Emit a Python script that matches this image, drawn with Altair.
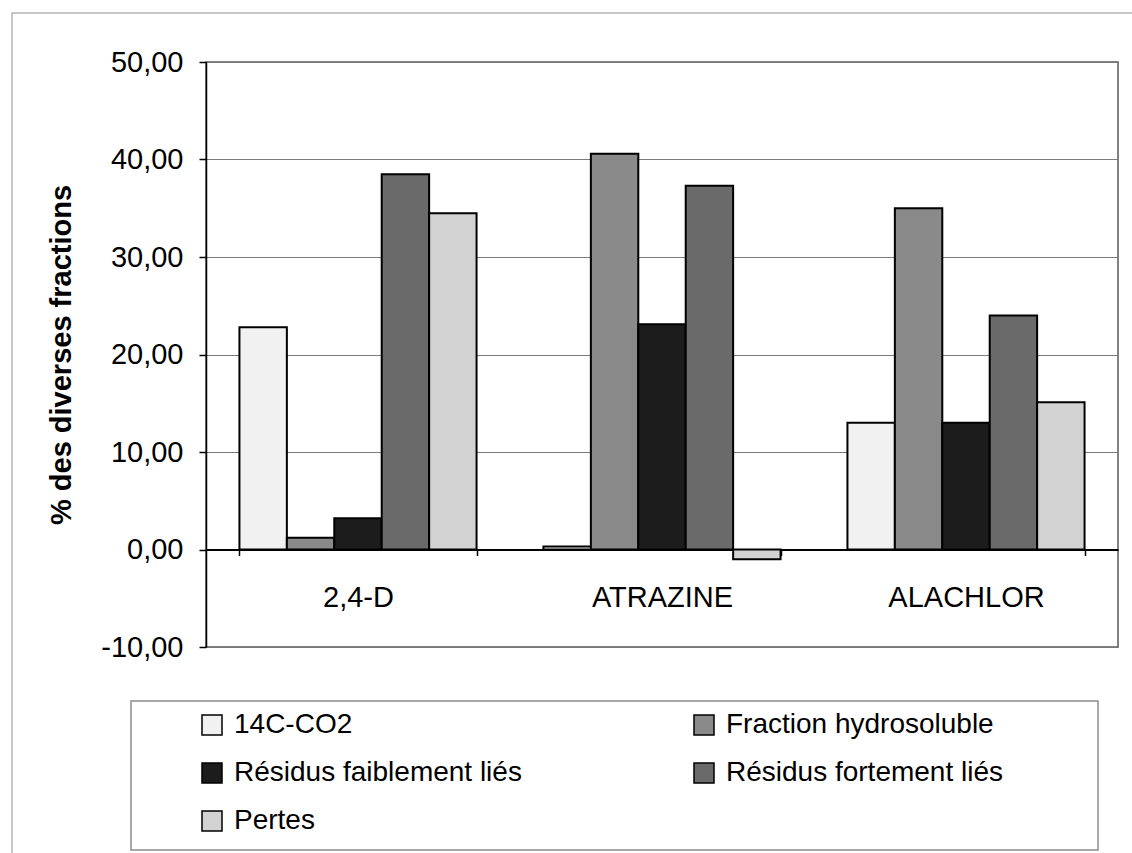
import altair as alt
import pandas as pd

# Herbicides (categories) and the five fractions measured for each
herbicides = ["2,4-D", "ATRAZINE", "ALACHLOR"]
fractions = [
    "14C-CO2",
    "Fraction hydrosoluble",
    "Résidus faiblement liés",
    "Résidus fortement liés",
    "Pertes",
]

# % of each fraction, in herbicide order
co2 = [22.8, 0.3, 13.0]
hydrosoluble = [1.2, 40.6, 35.0]
faiblement = [3.2, 23.1, 13.0]
fortement = [38.5, 37.3, 24.0]
pertes = [34.5, -1.0, 15.1]

# y-axis tick values
y_ticks = [-10, 0, 10, 20, 30, 40, 50]

# grey fills, one per fraction
fills = ["#f1f1f1", "#8a8a8a", "#1c1c1c", "#6a6a6a", "#d2d2d2"]

series = [co2, hydrosoluble, faiblement, fortement, pertes]
rows = [
    {"herbicide": h, "fraction": f, "value": vals[i]}
    for f, vals in zip(fractions, series)
    for i, h in enumerate(herbicides)
]
df = pd.DataFrame(rows)
one = pd.DataFrame({"k": [0]})

W, H = 912, 585
FONT = "Liberation Sans"

# light outer frame around the whole figure
frame = alt.Chart(one).mark_rect(
    fillOpacity=0, stroke="#b5b5b5", strokeWidth=1.5
).encode(
    x=alt.value(-194), x2=alt.value(940), y=alt.value(-49), y2=alt.value(800)
)

# box behind the legend
legend_box = alt.Chart(one).mark_rect(
    fill="white", stroke="#8c8c8c", strokeWidth=1.5
).encode(
    x=alt.value(-75), x2=alt.value(892), y=alt.value(639), y2=alt.value(788)
)

bars = alt.Chart(df).mark_bar(stroke="black", strokeWidth=2).encode(
    x=alt.X(
        "herbicide:N",
        sort=herbicides,
        scale=alt.Scale(paddingInner=0.22, paddingOuter=0.11),
        axis=alt.Axis(
            title=None,
            orient="bottom",
            offset=-H * 10 / 60,
            domainColor="black",
            domainWidth=2,
            tickBand="extent",
            tickColor="black",
            tickWidth=1.5,
            tickSize=6,
            labelPadding=28,
            labelFont=FONT,
            labelFontSize=29,
            labelColor="black",
            labelAngle=0,
            grid=False,
        ),
    ),
    xOffset=alt.XOffset(
        "fraction:N",
        sort=fractions,
        scale=alt.Scale(paddingInner=0, paddingOuter=0),
    ),
    y=alt.Y(
        "value:Q",
        scale=alt.Scale(domain=[-10, 50], nice=False, zero=False),
        axis=alt.Axis(
            values=y_ticks,
            labelExpr="replace(replace(format(datum.value, '.2f'), '.', ','), '\u2212', '-')",
            title="% des diverses fractions",
            titleFont=FONT,
            titleFontSize=29,
            titleFontWeight="bold",
            titleColor="black",
            titlePadding=24,
            labelFont=FONT,
            labelFontSize=29,
            labelColor="black",
            labelPadding=16,
            domainColor="black",
            domainWidth=1.5,
            tickColor="black",
            tickSize=7,
            tickWidth=1.5,
            grid=True,
            gridColor="#7a7a7a",
            gridWidth=1.2,
        ),
    ),
    fill=alt.Fill(
        "fraction:N",
        sort=fractions,
        scale=alt.Scale(domain=fractions, range=fills),
        legend=alt.Legend(
            title=None,
            orient="none",
            direction="horizontal",
            legendX=-8,
            legendY=649,
            columns=2,
            columnPadding=168,
            rowPadding=20,
            padding=0,
            symbolType="square",
            symbolSize=400,
            symbolStrokeColor="black",
            symbolStrokeWidth=1.5,
            labelFont=FONT,
            labelFontSize=28,
            labelColor="black",
            labelOffset=8,
            labelLimit=0,
        ),
    ),
)

chart = (
    alt.layer(frame, legend_box, bars)
    .properties(
        width=W,
        height=H,
        padding={"left": 206, "top": 62, "right": 14, "bottom": 206},
        autosize=alt.AutoSizeParams(type="none"),
        background="white",
    )
    .configure_view(stroke="#5a5a5a", strokeWidth=1.5)
)

chart.save("out.html", embed_options={"renderer": "svg", "actions": False})
